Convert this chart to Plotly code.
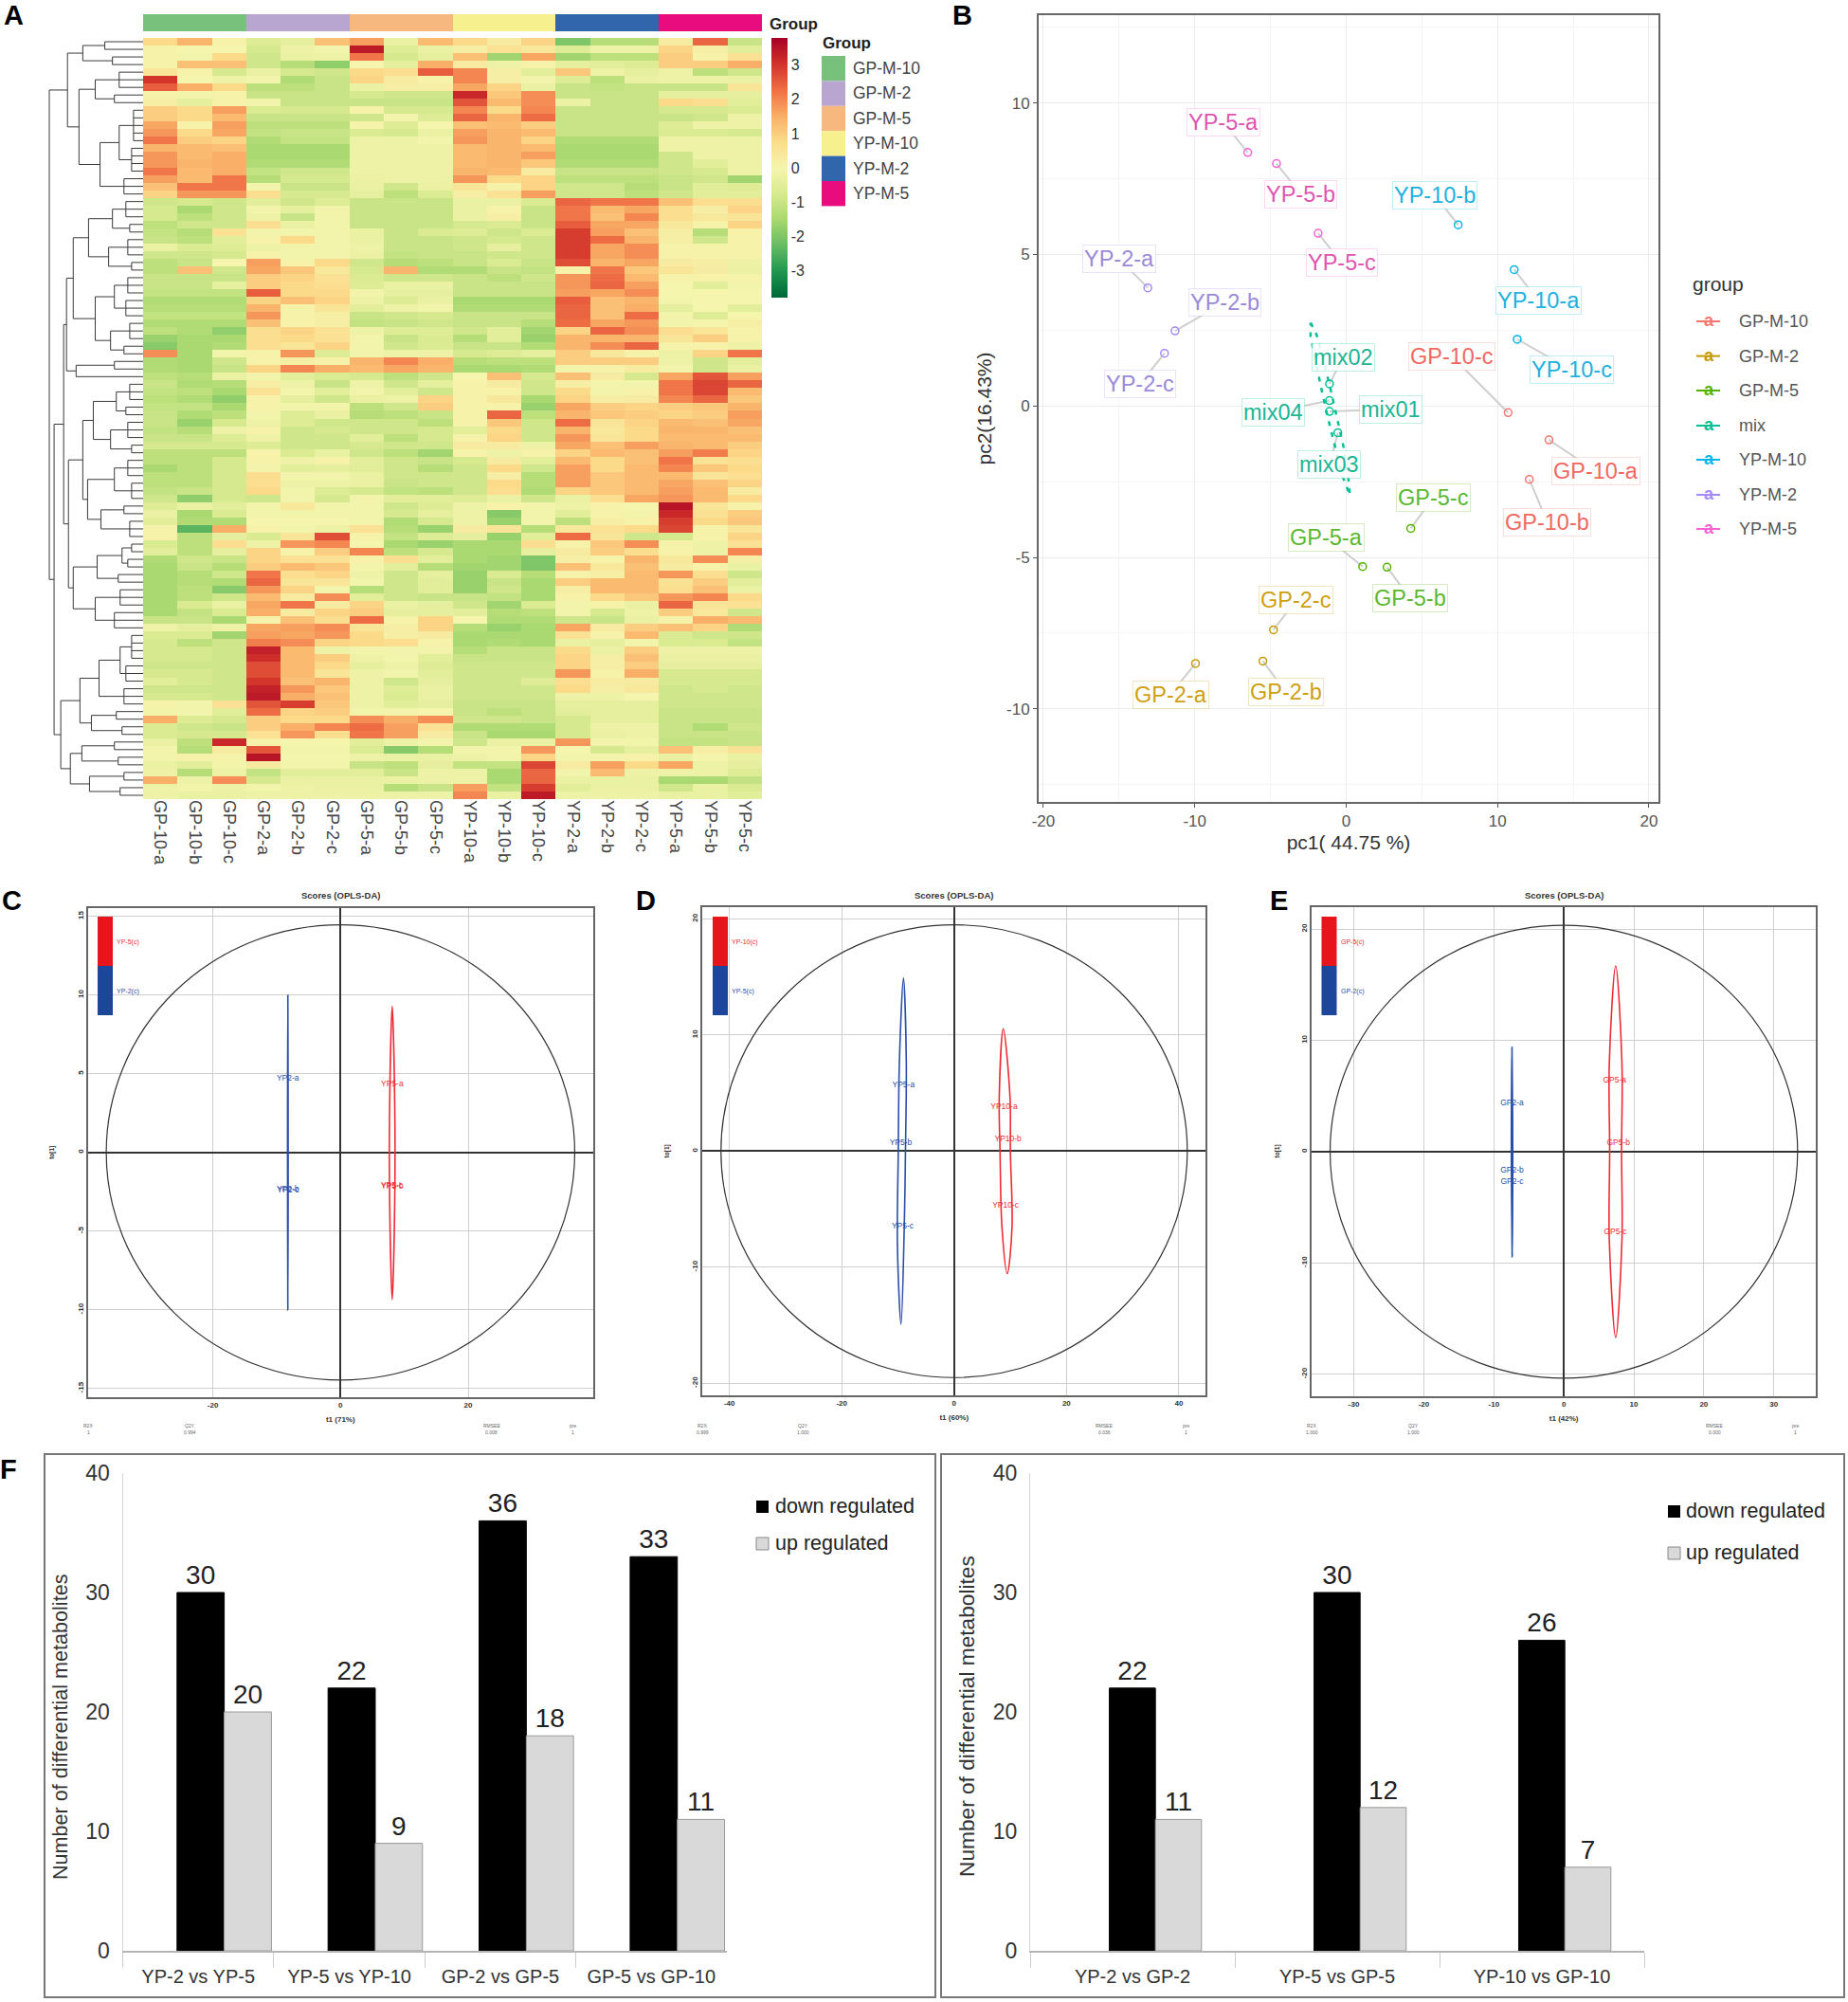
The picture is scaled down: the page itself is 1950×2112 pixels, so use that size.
import plotly.graph_objects as go

W, H = 1950, 2112

# ---------- Panel A data ----------
samples = ["GP-10-a","GP-10-b","GP-10-c","GP-2-a","GP-2-b","GP-2-c","GP-5-a","GP-5-b","GP-5-c",
           "YP-10-a","YP-10-b","YP-10-c","YP-2-a","YP-2-b","YP-2-c","YP-5-a","YP-5-b","YP-5-c"]
group_index = [0,0,0,1,1,1,2,2,2,3,3,3,4,4,4,5,5,5]
group_names = ["GP-M-10","GP-M-2","GP-M-5","YP-M-10","YP-M-2","YP-M-5"]
group_colors = ["#78C17C","#B9A6D0","#F6B87F","#F6F08E","#3266AC","#E90C7E"]
heat_values = [
[.8,1.4,.1,-.6,-.4,1.2,1.7,-.3,1.3,.8,.3,.9,-2,-1.3,-1.3,.3,2.4,-1],
[.1,0,0,-.8,-.2,-.1,3.4,-.6,-.3,.2,.6,.4,-.6,-.2,-.2,.9,.2,-.5],
[.1,-.1,.8,-.9,-.3,-.2,2.2,-.8,-.4,1.2,-1.6,1.6,-1.6,-1.2,-1.2,1,.1,.6],
[.1,1.2,1.2,-.9,-1.3,-1.8,0,-.4,1.5,.3,-.2,.1,-.4,-.5,-.6,1,1,1.5],
[.5,.1,-.8,-.3,-.8,-.9,.8,.7,2.5,2,.2,-.5,1.1,-.2,-.4,-.2,-1.2,-.9],
[3,0,-.2,-.1,-1.4,-1,.9,.3,.1,2,.2,-.1,-.6,-1.2,-.3,-.2,-.2,-.3],
[2.5,1.5,.8,-1.2,-1.2,-1,-.3,.2,.2,1.6,.9,-.3,-1,-1.1,-1,-1,-1,.5],
[.1,-.1,.1,-1,-1,-1,-.8,-.9,-.9,3.2,1.1,1.9,-1,-1,-1,-.4,-.4,-.4],
[.2,-.4,.1,-.1,-1,-1,-1,-1,-1,2.6,1.3,1.9,-.3,-1,-1,.8,.7,-.5],
[1,.8,1.7,-.7,-.8,-.8,.1,-.8,-.8,2,.8,2,-1,-1,-1,-.8,-.8,-.7],
[1,.8,1.3,-1,-1,-1,-.9,-.1,-.6,2.4,1.4,2.3,-1,-1,-1,-1,-.9,-.2],
[1.6,.1,1.7,-1.2,-1.2,-1.2,.1,-.6,0,1.2,1.3,1,-1,-1,-1,-.6,-.2,-.2],
[1.8,.8,1.6,-1.1,-1,-1,-.7,-.8,-.3,1.7,1.4,1.3,-1,-1,-1,-.7,-.7,-.8],
[2.2,1,.9,-1.4,-1.1,-1.1,-.2,-.2,-.1,1.8,1.4,.9,-1.4,-1.4,-1.4,-.2,-.2,-.2],
[1.4,1.3,1.2,-1.5,-1.5,-1.5,-.2,-.2,-.2,1.3,1.4,1.3,-1.5,-1.5,-1.5,-.2,-.2,-.2],
[1.8,1.3,1.5,-1.5,-1.5,-1.5,-.2,-.2,-.2,1.3,1.4,1.7,-1.5,-1.5,-1.5,-.9,-.2,-.2],
[1.8,1.4,1.5,-1.4,-1.4,-1.4,-.2,-.2,-.2,1.3,1.4,1.1,-1.4,-1.4,-1.4,-.9,-.5,-.2],
[2.2,1.3,1.5,-1.1,-.9,-.9,-.2,-.2,-.2,1.4,1.3,.3,-1,-1,-1,-.9,-.8,-.2],
[1.7,1.3,2.2,-1.3,-.8,-.8,-.3,-.2,-.2,1.8,.8,.9,-1.2,-1.2,-1.2,-1,-.9,-1.6],
[1.2,2.2,2.2,-.1,-1,-1,-.3,-.9,-.3,.5,.1,.9,-.9,-.9,-1.3,-1,-.5,-.6],
[.9,1.8,1.8,.7,-.8,-.8,-.4,-1.2,-.7,.2,.6,1.7,-.9,-.9,-1.2,-.9,-.5,-.5],
[-.9,-.8,-.9,-.5,-.9,-.6,-1,-1,-1,-.3,-.3,-.7,2.4,2.2,2.2,1.2,.7,.7],
[-.8,-1.5,-.9,-.1,-.4,-.1,-1,-1,-1,-.3,.1,-1,2.2,1.3,1.6,.7,.2,.9],
[-.8,-1.2,-.9,-.2,-1,-.1,-1,-1,-1,-.3,.2,-1,2.2,1.2,2,.7,.4,.5],
[-1.2,-.9,-.9,.7,-.3,-.1,-1,-1,-1,-.8,-.7,-1,2.5,1.6,1.6,.4,.1,.9],
[-1.1,-1.3,.6,-.1,-.1,-.1,-.3,-1,-.7,-.6,-.9,-.7,2.9,1.7,1.2,.2,-1.3,.1],
[-1,-1.2,-.5,.1,.8,-.1,-.3,-1,-1,-.9,-.8,-.9,2.9,2.3,1.4,.2,-.9,.1],
[-.3,-.7,-.6,-.2,-.1,-.1,-.2,-1,-1,-.9,-.4,-.9,2.9,1.6,1.9,.1,.1,.1],
[-.9,-.9,-.8,.1,-.1,-.1,-.3,-1.1,-1,-1,-.9,-.9,2.9,1.6,1.9,.1,.1,.1],
[-1.2,-1,0,1.7,.1,.8,-.9,-1.3,-1.2,-1,-.7,-1,2.7,1.4,1.6,.3,.2,-.2],
[-1.2,1.2,-.9,1.6,1.1,.4,-.8,1.4,-1.4,-1.4,-1,-1.1,.1,2.2,1.1,.5,.3,-.3],
[-1,-1,-1,1,.9,.6,-.7,-.9,-.9,-1,-1.2,-.9,1.8,2.3,1.3,.1,.1,.1],
[-1,-1,-.4,1,.8,.7,-.6,-.3,-.3,-1,-1,-1,1.8,2.4,1.7,0,-.5,-.1],
[-1.1,-1.1,-1.1,2.5,.8,.8,-.1,-.4,-.4,-1,-1,-1,1.7,1.6,1.9,0,0,0],
[-1.4,-1.4,-1.4,.9,1.2,.9,-.2,-.6,-.3,-1.5,-1.5,-1.5,2.5,1.2,1.4,-.1,0,0],
[-1.3,-1.3,-1.3,1.4,.1,.5,-.5,-.2,-.1,-1.4,-1.4,-1.4,2.4,1.2,1.5,-.4,0,-.5],
[-1.1,-1.1,-1.1,1.8,.1,.2,-1,-.9,-.8,-1,-1,-1,2.4,1.2,2.3,-.1,-.6,0],
[-1.4,-1.4,-1.4,1.2,.1,.2,-1.1,-1,-.9,-1,-1,-1.3,2.3,1.6,1.8,-.1,0,.2],
[-1.2,-1.4,-1.8,.7,.9,.6,-.2,-.6,-.6,-.9,-.5,-1.6,.9,2.4,1.9,.7,.5,.1],
[-1.7,-1.5,-1.5,.7,.8,.6,-.1,-1,-.7,-1.3,-.5,-1.7,1.4,1.4,1.4,.5,1,.1],
[-1.9,-1.5,-1.4,.7,.5,.9,-.1,-.9,-.7,-1,-1,-1.4,1.4,1.9,2.4,.1,.1,-.2],
[1.9,-1.5,-.1,.1,1.8,-.6,-.1,-.2,-.2,-.8,-.6,-.4,1,.4,.1,-.2,.9,2.2],
[-1.4,-1.5,-.9,.1,.2,.1,1.4,2,1.5,-1.3,-1.2,-1.2,1,1,1,-.2,-.9,-.5],
[-1.4,-1.5,-1,.9,2,1.5,1.3,1.6,1.4,-1.5,-1.5,-1.4,-.1,.1,.3,-.1,-.9,-.3],
[-1.2,-1.3,-.3,-.1,-.5,-.7,-.8,-1.2,-.9,0,1.2,-.8,1.2,.3,-.8,1.6,2.6,1.7],
[-1,-1.4,-1.3,.2,-.2,-1,-.2,-.9,-.4,.1,.3,-.9,.2,-.1,-.1,2.2,2.8,2.4],
[-1.1,-1.2,-1.5,.6,-.1,-.5,-.1,-.5,-.9,.1,.1,-.9,.8,-.1,.1,2.2,2.8,1.3],
[-1.2,-1.4,-1.8,.1,-.4,-.9,-.3,-.2,.9,.1,.4,-1.5,.9,.2,.3,2,2.4,1.1],
[-1.1,-1.1,-1.5,.1,-.1,-.1,-1.2,-.9,1,.1,.1,-1.7,1.6,1,.9,1,1.1,1.4],
[-1,-1.4,-1.2,-.1,-.6,-.3,-1.3,-1.2,-1,.1,2.4,-1.2,1.4,1.1,1,.9,1,1.7],
[-1,-1.7,-.8,-.2,-.6,-.9,-.9,-.9,-1.2,.1,1.1,-.9,2.3,.5,.9,1.3,1.2,1.6],
[-1.1,-1.3,-.2,.1,-.9,-.8,-.9,-.9,-.8,-.5,.8,-.9,1.4,.4,.8,1.4,1.4,1.2],
[-1,-1,-.6,-.2,-.9,-.9,-.5,-1.2,-.8,.1,.9,-.9,1.8,.5,.8,1.3,1.3,1.3],
[-.8,-.8,-.8,-.6,-.9,-.9,-.8,-.9,-.9,.3,.3,-.2,1.6,1.2,1.7,1.4,1.3,1],
[-1.2,-1.2,-1.2,.1,-.7,-.3,-.9,-1.2,-1.6,.1,-.2,.1,.9,1.3,1.2,1.7,2.1,.9],
[-1.2,-1.2,-.8,.1,-.2,.1,-.5,-.9,-1,-.8,.3,-.5,1.3,.8,1.2,2.2,.6,.7],
[-1.5,-1.2,-.8,-.1,-.5,-.4,-.5,-.9,-1.3,-.9,.8,-.9,1.7,.8,1.3,2,1.1,.8],
[-1.2,-1.2,-.8,.7,-.1,-.1,-.3,-.9,-.9,-.9,.2,-1.3,1.7,1.1,1.3,1.3,.5,.7],
[-1.2,-1.2,-.8,.7,-.2,-.2,-.3,-1,-.9,-.9,.8,-1.3,1.7,1.1,1.3,1.6,1.2,.9],
[-1.1,-1,-.8,.8,-.1,-.6,-.8,-1.1,-1.2,-.9,.7,-1.4,.9,1.1,1.3,1.7,1.3,.3],
[-.9,-1.8,-.8,-.9,-.1,-.8,-.1,-.5,-.5,-.6,-.3,-.9,-.3,.7,1.6,1.8,1.3,.8],
[-.6,-.3,-.5,-.1,.4,-.1,-.1,-.9,-.6,-.2,.1,-.1,-.2,.1,0,3.5,.5,.1],
[-.3,-1.5,-.7,-.1,-.1,-.1,-.1,-.8,-.4,-.2,-1.9,-.1,-.5,.1,-.1,3.2,.6,1],
[-.5,-1.4,-1.4,0,0,0,-.1,-1.4,-.8,-.2,-1.7,-.1,-1.2,.2,.1,2.9,.8,1.1],
[.1,-2.4,1.5,.1,-.1,-.2,.6,-1.3,-1.7,.3,.5,-1.3,.4,.6,.8,2.8,.1,.5],
[.1,-1.2,-.4,-.7,.5,2.7,.1,-1.1,-.6,-.4,-1.7,-.5,2.3,.5,-.9,-.8,.1,.9],
[-.7,-1.2,.7,-.2,1.8,2,0,-1.5,-1.7,-1.5,-1.5,.7,.1,1.1,1.9,.1,-.2,.6],
[-.5,-1.2,-.4,.9,.1,1,2,-1.2,-.8,-1.5,-1.5,-.4,.3,1,.7,.1,-.2,2],
[-1.4,-.9,-1,.9,.6,.6,.1,.7,-.5,-1.5,-1.6,-2,.2,.1,1.4,.4,1.9,.2],
[-1.5,-1,-1.3,1,1.3,1.1,-.1,-.5,-1.3,-1.6,-1.6,-2,1.2,.4,1.2,.3,.1,-.3],
[-1.5,-1.3,-.9,2.2,.7,.9,-.2,-.9,-.4,-1.7,-.7,-1.3,.1,.2,1.3,1.8,.7,-.9],
[-1.5,-1.3,-1.4,2.4,.5,.5,-.1,-.9,-.5,-1.7,-1,-1.5,1,1.3,1.3,.6,1,-.5],
[-1.5,-1.2,-1.9,1.8,.9,-.1,-1.3,-.9,-.5,-1.7,-.9,-1.5,.2,1.3,1.3,.7,1.2,-.3],
[-1.5,-1.2,-.9,1.3,.3,1.9,-.5,-.9,-1,-1,-1.1,-1.5,.1,.8,1.1,1.8,2,.8],
[-1.5,-.7,-.3,1.6,2.2,.3,.9,-.3,-.4,-.9,-1.6,-.7,-.1,.1,-.3,2.4,.5,.6],
[-1.5,-1.1,-.7,1.5,.3,.9,1,-.4,-.4,-.5,-1.3,-1.2,-.1,-.8,-.2,1,.4,-.9],
[-1,-1,-1.5,.1,1.2,.7,2.3,.1,.9,0,-1.4,-1.4,-.9,-1,-.3,.1,1.5,1.3],
[-.2,-.4,-.2,1.6,1.7,1.9,.5,.2,.9,-1.3,-1.7,-1.5,1.6,.3,1,1.2,.9,-1.4],
[-.7,-.7,-1.6,1.7,1.6,1.8,.8,.2,.3,-1.5,-1.5,-1.5,.6,.1,1.3,-.7,-.9,-.9],
[-.8,-1.2,-.9,2.1,1.9,.9,.8,.7,.1,-1.5,-1.4,-1.5,-.3,-.4,-.1,-.7,-.7,-1.1],
[-.8,-.8,-.9,3.3,1.3,-.2,-.1,-.1,-.1,-1.3,-1,-1,.8,-.3,1,-.2,-.2,-.2],
[-.8,-.8,-.9,3.1,1.3,1,-.2,-.1,-.5,-1,-1,-1,.9,.2,1.2,-.3,-.3,-.3],
[-.9,-.9,-.9,2.7,1.3,.8,-.4,-.2,-.6,-.9,-.9,-.9,.9,.2,1,-.4,-.4,-.4],
[-.8,-.8,-.9,2.7,1.3,.5,-.2,-.1,-.5,-.9,-.9,-.9,1.8,.1,1.5,-.8,-.8,-.8],
[-.5,-.8,-.9,3,1.2,1.4,-.2,-.9,-.4,-.9,-.9,-.6,.7,.3,.3,-.8,-.8,-.8],
[-.9,-.9,-.9,3.3,1.8,1.1,-.2,-.6,-.3,-.9,-.9,-.9,.8,.2,.4,-.9,-.8,-.9],
[-.8,-.8,-.9,3.4,1.5,1.2,-.2,-.7,-.3,-.9,-.9,-.9,-.2,-.2,0,-.9,-.9,-.9],
[.1,-.1,.6,2.6,2.9,1.1,-.2,-.5,-.4,-1,-1,-1,-.4,-.4,-.4,-.9,-.9,-.9],
[-.1,-.1,-.5,2.3,.9,1,-.1,-.1,0,-1,-1.2,-1,-.5,-.4,-.4,-1,-1,-1],
[1.5,-.6,-.8,1,.8,.8,1.9,1.5,1.9,-.9,-.9,-1,-.8,-.4,-.4,-1,-1,-1],
[-.7,-.9,-1,1,1.5,2,2.3,1.7,.6,-1.4,-1.4,-1.4,-.8,-.2,-.2,-1,-1.4,-.9],
[-.7,-.8,-.8,.6,1.8,.7,2.2,1.7,.3,-1,-1.5,-1.5,-.8,-.3,-.2,-1,-1,-1],
[-.3,-1.2,3.2,.1,0,0,-.5,-.2,-.1,-.9,-.3,-.3,1.8,-.1,-.1,-1.1,-1.1,-1],
[-.1,-1.3,.3,2.6,-.1,-.1,-.7,-1.9,-1.3,-.1,-.1,1.8,0,-.8,-.4,1.2,.2,.6],
[-.1,.1,.1,3.5,0,0,-.2,-.3,-.3,-.2,-.1,.9,-.1,-.1,.1,-.3,0,-.3],
[-.3,-.5,-.1,.3,-.1,-.1,-1,-1.2,-.4,-1.1,-1.1,2.8,.3,1.7,.8,1.6,-.2,-.4],
[-.2,-1.3,-.2,-1.1,-.5,-.5,-.5,-1,-.2,-.2,-1.5,2.4,-.1,1.3,-.2,-.2,-.2,-.6],
[1.5,-.2,1.9,-.8,-.3,-.3,-.3,-.3,-.2,-.2,-1.5,2.4,-.3,-.3,-.3,-1.5,-1.5,-1.1],
[-.2,-.1,-.2,-.1,-.2,-.3,-.3,-1.3,-1,1.7,-1.1,2.9,-.5,-.3,-.3,-.9,-.3,-.7],
[-.2,-.3,-.3,-.2,-.2,-.2,-.2,-.2,-.2,2,-.3,3.4,-.2,-.2,-.2,-.3,-.3,-.5],
]
colorbar_ticks = [-3,-2,-1,0,1,2,3]
# dendrogram: [height, upper, lower]; (height, n) is a fan of n leaves
tree_a = [79,[63,(40,2),(32,2)],[67,[50,(25,3),(30,2)],[45,[25,(10,5),(12,4)],(20,3)]]]
tree_b = [73,[57,[32,(18,3),(14,2)],[36,(16,3),(12,2)]],[50,[30,(16,3),(18,3)],[34,(14,3),(20,2)]]]
tree_c = [70,(30,2),(0,1)]
tree_d = [63,[52,[28,(14,3),(18,2)],[34,(16,3),(12,2)]],[58,[30,(16,3),(12,3)],[44,(20,2),(14,3)]]]
tree_e = [73,[48,[22,(12,2),(16,2)],(26,2)],[50,(24,3),(30,3)]]
tree_f = [66,[46,[24,(12,4),(18,3)],(20,3)],[54,(28,2),(22,2)]]
tree_g = [76,[64,(30,2),(26,2)],[56,(20,2),(24,2)]]
tree_root = [98,tree_a,[93,[83,[80,tree_b,tree_c],[78,tree_d,tree_e]],[86,tree_f,tree_g]]]

# ---------- Panel B data ----------
pca_groups = ["GP-M-10","GP-M-2","GP-M-5","mix","YP-M-10","YP-M-2","YP-M-5"]
pca_colors = ["#F8766D","#C49A00","#53B400","#00C094","#00B6EB","#A58AFF","#FB61D7"]
pca_border_colors = ["rgba(248,118,109,.25)","rgba(196,154,0,.25)","rgba(83,180,0,.25)","rgba(0,192,148,.25)",
                     "rgba(0,182,235,.25)","rgba(165,138,255,.25)","rgba(251,97,215,.25)"]
pca_text_colors = ["#F2675F","#CF9F10","#5CB82E","#1DB592","#22B0E0","#9A8AD8","#DE55B0"]
pca_names = ["GP-10-a","GP-10-b","GP-10-c","GP-2-a","GP-2-b","GP-2-c","GP-5-a","GP-5-b","GP-5-c",
             "mix01","mix02","mix03","mix04","YP-10-a","YP-10-b","YP-10-c","YP-2-a","YP-2-b","YP-2-c",
             "YP-5-a","YP-5-b","YP-5-c"]
pca_group_idx = [0,0,0,1,1,1,2,2,2,3,3,3,3,4,4,4,5,5,5,6,6,6]
pca_x = [13.4,12.1,10.7,-9.95,-5.5,-4.8,1.09,2.7,4.27,-1.1,-1.1,-.55,-1.1,11.1,7.4,11.3,-13.1,-11.3,-12,-6.5,-4.6,-1.85]
pca_y = [-1.12,-2.42,-.22,-8.5,-8.42,-7.39,-5.3,-5.32,-4.04,-.18,.73,-.88,.18,4.5,5.98,2.2,3.9,2.48,1.74,8.37,8,5.7]
label_x = [16.5,13.3,7,-11.6,-4,-3.3,-1.3,4.2,5.75,2.95,-.2,-1.1,-4.8,12.7,5.87,14.9,-15,-8,-13.6,-8.1,-3,-.3]
label_y = [-2.15,-3.85,1.63,-9.52,-9.43,-6.42,-4.33,-6.33,-3.03,-.11,1.61,-1.94,-.2,3.47,6.95,1.19,4.86,3.43,.73,9.35,7,4.73]
mix_ellipse_x = [-2.35,-1.95,-1.55,-1.05,-.6,-.15,.15,.25,-.25,-.7,-1.2,-1.65,-2.05,-2.35,-2.35]
mix_ellipse_y = [2.75,2.35,1.6,.6,-.4,-1.4,-2.4,-2.95,-2.3,-1.4,-.4,.6,1.6,2.3,2.75]

# ---------- Panels C, D, E data ----------
score_panels = [
 dict(letter="C", xdom=(92.6,626), ydom=(957.6,1474), xr=39.6, yr=15.55, rx=36.7, ry=14.46,
      xticks=[-20,0,20], yticks=[-15,-10,-5,0,5,10,15], xt="t1 (71%)", ytx=55,
      red_x=[8.1,8.5,8.5,8.1,7.7,7.7,8.1], red_y=[9.3,3,-3,-9.35,-3,3,9.3],
      blue_x=[-8.25,-8.2,-8.25,-8.3,-8.25], blue_y=[10,0,-10,0,10],
      red_px=[8.1,8.1,8.05], red_py=[4.33,-2.2,-2.1], red_n=["YP5-a","YP5-b","YP5-c"],
      blue_px=[-8.25,-8.25,-8.2], blue_py=[4.7,-2.35,-2.4], blue_n=["YP2-a","YP2-b","YP2-c"],
      leg=["YP-5(c)","YP-2(c)"], leg_x=(103,119), leg_top=967,
      metrics=[("R2X","1",93),("Q2Y","0.994",200),("RMSEE","0.008",518.5),("pre","1",604)]),
 dict(letter="D", xdom=(741.2,1272.4), ydom=(957.2,1471.6), xr=44.8, yr=21, rx=41.5, ry=19.5,
      xticks=[-40,-20,0,20,40], yticks=[-20,-10,0,10,20], xt="t1 (60%)", ytx=704,
      red_x=[8.74,9.94,10.01,10.3,9.45,8.52,8.17,8.03,8.74], red_y=[10.55,4.68,0,-6.6,-10.55,-6.6,0,4.68,10.55],
      blue_x=[-9.02,-8.52,-8.66,-8.88,-9.45,-10.09,-9.94,-9.73,-9.02], blue_y=[14.9,7.9,0,-6.6,-14.9,-8.2,0,7.9,14.9],
      red_px=[8.88,9.59,9.16], red_py=[3.77,1,-4.68], red_n=["YP10-a","YP10-b","YP10-c"],
      blue_px=[-9.02,-9.5,-9.16], blue_py=[5.71,.68,-6.45], blue_n=["YP5-a","YP5-b","YP5-c"],
      leg=["YP-10(c)","YP-5(c)"], leg_x=(752,768), leg_top=967,
      metrics=[("R2X","0.999",741),("Q2Y","1.000",847),("RMSEE","0.036",1165),("pre","1",1251)]),
 dict(letter="E", xdom=(1384.3,1916), ydom=(957.2,1472.8), xr=36, yr=21.96, rx=33.4, ry=20.35,
      xticks=[-30,-20,-10,0,10,20,30], yticks=[-20,-10,0,10,20], xt="t1 (42%)", ytx=1347.5,
      red_x=[7.41,8.3,8.25,8.3,7.41,6.5,6.55,6.5,7.41], red_y=[16.7,8,0,-8,-16.7,-8,0,8,16.7],
      blue_x=[-7.41,-7.3,-7.38,-7.5,-7.41], blue_y=[9.4,0,-9.46,0,9.4],
      red_px=[7.25,7.8,7.36], red_py=[6.4,.77,-7.2], red_n=["GP5-a","GP5-b","GP5-c"],
      blue_px=[-7.41,-7.41,-7.41], blue_py=[4.34,-1.72,-2.73], blue_n=["GP2-a","GP2-b","GP2-c"],
      leg=["GP-5(c)","GP-2(c)"], leg_x=(1394.5,1410.5), leg_top=967,
      metrics=[("R2X","1.000",1384),("Q2Y","1.000",1491),("RMSEE","0.000",1809),("pre","1",1894)]),
]

# ---------- Panel F data ----------
f_left_cats = ["YP-2 vs YP-5","YP-5 vs YP-10","GP-2 vs GP-5","GP-5 vs GP-10"]
f_left_down = [30,22,36,33]
f_left_up = [20,9,18,11]
f_right_cats = ["YP-2 vs GP-2","YP-5 vs GP-5","YP-10 vs GP-10"]
f_right_down = [22,30,26]
f_right_up = [11,12,7]

FONT = "Liberation Sans"

def px(x): return x / W
def py(y): return 1 - y / H
def xd(a, b): return [px(a), px(b)]
def yd(t, b): return [py(b), py(t)]
def signed(vals): return [str(v) for v in vals]

fig = go.Figure()
shapes, annots = [], []

def text(x, y, s, size, color="#222", bold=False, xanchor="center", yanchor="middle", angle=0):
    annots.append(dict(x=px(x), y=py(y), xref="paper", yref="paper", text=s, showarrow=False,
                       xanchor=xanchor, yanchor=yanchor, textangle=angle,
                       font=dict(size=size, color=color, family=FONT, weight="bold" if bold else "normal")))

def rect(x0, y0, x1, y1, fill=None, line=None, lw=1):
    shapes.append(dict(type="rect", xref="paper", yref="paper", x0=px(x0), x1=px(x1),
                       y0=py(y0), y1=py(y1), fillcolor=fill or "rgba(0,0,0,0)",
                       line=dict(color=line or "rgba(0,0,0,0)", width=lw)))

layout_axes = {}

# ---------- A: heatmap ----------
rdylgn = ["#006837","#1f964f","#66bb63","#a9d870","#d8ea90","#F5F5AE","#fbdc8c","#f9ae66","#ef6e45","#d2322a","#a50026"]
scale = [[i / 10, c] for i, c in enumerate(rdylgn)]
rows = list(range(len(heat_values)))
fig.add_trace(go.Heatmap(z=heat_values, x=samples, y=rows, zmin=-3.8, zmax=3.8, colorscale=scale,
    xaxis="x", yaxis="y", hoverinfo="skip",
    colorbar=dict(x=px(814), xanchor="left", y=py(40), yanchor="top", len=274, lenmode="pixels",
                  thickness=17, thicknessmode="pixels", outlinewidth=0, xpad=0, ypad=0, tickvals=colorbar_ticks,
                  ticktext=signed(colorbar_ticks), ticks="", tickfont=dict(size=16, color="#333", family=FONT))))
layout_axes["xaxis"] = dict(domain=xd(151, 804), tickangle=90, showgrid=False, ticks="", showline=False, zeroline=False,
                            tickfont=dict(size=18, color="#444", family=FONT), anchor="y")
layout_axes["yaxis"] = dict(domain=yd(40, 843), range=[len(rows) - .5, -.5], showticklabels=False, showgrid=False,
                            zeroline=False, ticks="", anchor="x")

# annotation bar
bar_scale = []
for i, c in enumerate(group_colors):
    bar_scale += [[i / 6, c], [(i + 1) / 6, c]]
fig.add_trace(go.Heatmap(z=[[g + .5 for g in group_index]], x=samples, y=["Group"], zmin=0, zmax=6, colorscale=bar_scale,
                         showscale=False, xaxis="x2", yaxis="y2", hoverinfo="skip"))
layout_axes["xaxis2"] = dict(domain=xd(151, 804), showticklabels=False, showgrid=False, ticks="", zeroline=False, anchor="y2")
layout_axes["yaxis2"] = dict(domain=yd(15, 33), showticklabels=False, showgrid=False, ticks="", zeroline=False, anchor="x2")
text(810, 25, "Group", 17, "#222", True, "left")

# dendrogram
tx, ty = [], []
cursor = [0]
def seg(x0, y0, x1, y1):
    tx.extend([x0, x1, None]); ty.extend([y0, y1, None])
def walk(node):
    if isinstance(node, tuple):
        h, n = node
        ys = [cursor[0] + k for k in range(n)]
        cursor[0] += n
        for y in ys:
            seg(0, y, h, y)
        if n > 1:
            seg(h, ys[0], h, ys[-1])
        return h, sum(ys) / n
    h, a, b = node
    ha, ya = walk(a)
    hb, yb = walk(b)
    seg(h, ya, h, yb); seg(ha, ya, h, ya); seg(hb, yb, h, yb)
    return h, (ya + yb) / 2
walk(tree_root)
fig.add_trace(go.Scatter(x=tx, y=ty, mode="lines", line=dict(color="#3a3a3a", width=1), xaxis="x3", yaxis="y3",
                         hoverinfo="skip", showlegend=False))
layout_axes["xaxis3"] = dict(domain=xd(50, 151), range=[100, 0], visible=False, anchor="y3")
layout_axes["yaxis3"] = dict(domain=yd(40, 843), range=[len(rows) - .5, -.5], visible=False, anchor="x3")

# A legend
text(866, 46, "Group", 17, "#222", True, "left")
for i, (n, c) in enumerate(zip(group_names, group_colors)):
    rect(867, 59 + 26.4 * i, 892, 59 + 26.4 * (i + 1), fill=c)
    text(898, 72 + 26.4 * i, n, 17.5, "#444", False, "left")

# ---------- B: PCA ----------
cx, cy = [], []
for a, b, c, d in zip(pca_x, pca_y, label_x, label_y):
    cx += [a, c, None]; cy += [b, d, None]
fig.add_trace(go.Scatter(x=cx, y=cy, mode="lines", line=dict(color="#cfcfcf", width=2), xaxis="x4", yaxis="y4",
                         hoverinfo="skip", showlegend=False))
fig.add_trace(go.Scatter(x=mix_ellipse_x, y=mix_ellipse_y, mode="lines", line=dict(color=pca_colors[3], width=2.5, dash="5px,7px"),
                         xaxis="x4", yaxis="y4", hoverinfo="skip", showlegend=False))
fig.add_trace(go.Scatter(x=pca_x, y=pca_y, mode="markers", xaxis="x4", yaxis="y4", showlegend=False,
                         marker=dict(symbol="circle-open", size=8, line=dict(width=1.5), color=[pca_colors[g] for g in pca_group_idx]),
                         hoverinfo="skip"))
for n, g, x, y in zip(pca_names, pca_group_idx, label_x, label_y):
    annots.append(dict(x=x, y=y, xref="x4", yref="y4", text=n, showarrow=False,
                       font=dict(size=23.5, color=pca_text_colors[g], family=FONT),
                       bgcolor="rgba(255,255,255,0.85)", bordercolor=pca_border_colors[g], borderwidth=1, borderpad=1))
major = "#ececec"; minor = "#f5f5f5"
pca_xticks = [-20,-10,0,10,20]
pca_yticks = [-10,-5,0,5,10]
layout_axes["xaxis4"] = dict(domain=xd(1096, 1750), range=[-20.31, 20.63], tickvals=pca_xticks, ticktext=signed(pca_xticks), anchor="y4",
    showgrid=True, gridcolor=major, zeroline=False, minor=dict(tickvals=[-15,-5,5,15], showgrid=True, gridcolor=minor, ticks=""),
    ticks="outside", ticklen=4, tickcolor="#555", showline=True, mirror=True, linecolor="#666", linewidth=2,
    tickfont=dict(size=17, color="#555", family=FONT),
    title=dict(text="pc1( 44.75 %)", font=dict(size=21, color="#333", family=FONT), standoff=6))
layout_axes["yaxis4"] = dict(domain=yd(16, 846), range=[-13.07, 12.9], tickvals=pca_yticks, ticktext=signed(pca_yticks), anchor="x4",
    showgrid=True, gridcolor=major, zeroline=False, minor=dict(tickvals=[-12.5,-7.5,-2.5,2.5,7.5,12.5], showgrid=True, gridcolor=minor, ticks=""),
    ticks="outside", ticklen=4, tickcolor="#555", showline=True, mirror=True, linecolor="#666", linewidth=2,
    tickfont=dict(size=17, color="#555", family=FONT),
    title=dict(text="pc2(16.43%)", font=dict(size=21, color="#333", family=FONT), standoff=10))

# B legend
text(1784, 299, "group", 21, "#333", False, "left")
for n, c, y in zip(pca_groups, pca_colors, [339, 375.6, 412, 449, 485, 522, 558]):
    shapes.append(dict(type="line", xref="paper", yref="paper", x0=px(1790), x1=px(1815), y0=py(y), y1=py(y),
                       line=dict(color=c, width=2)))
    text(1803, y - 1, "a", 18, c, True)
    text(1833, y, n, 18, "#555", False, "left")

# ---------- C, D, E: OPLS-DA ----------
axis_id = 5
for p in score_panels:
    xa, ya = f"x{axis_id}", f"y{axis_id}"
    red, blue = "#EE2B35", "#2A4EA8"
    fig.add_trace(go.Scatter(x=p["blue_x"], y=p["blue_y"], mode="lines", line=dict(color=blue, width=1.6, shape="spline"),
                             xaxis=xa, yaxis=ya, showlegend=False, hoverinfo="skip"))
    fig.add_trace(go.Scatter(x=p["red_x"], y=p["red_y"], mode="lines", line=dict(color=red, width=1.6, shape="spline"),
                             xaxis=xa, yaxis=ya, showlegend=False, hoverinfo="skip"))
    fig.add_trace(go.Scatter(x=p["blue_px"], y=p["blue_py"], text=p["blue_n"], mode="text",
                             textfont=dict(size=8.5, color=blue, family=FONT), xaxis=xa, yaxis=ya, showlegend=False, hoverinfo="skip"))
    fig.add_trace(go.Scatter(x=p["red_px"], y=p["red_py"], text=p["red_n"], mode="text",
                             textfont=dict(size=8.5, color=red, family=FONT), xaxis=xa, yaxis=ya, showlegend=False, hoverinfo="skip"))
    shapes.append(dict(type="circle", xref=xa, yref=ya, x0=-p["rx"], x1=p["rx"], y0=-p["ry"], y1=p["ry"],
                       line=dict(color="#333", width=1.2)))
    axis_common = dict(showgrid=True, gridcolor="#cfcfcf", gridwidth=1, zeroline=True, zerolinecolor="#333", zerolinewidth=1.6,
                       ticks="", showline=True, mirror=True, linecolor="#666", linewidth=1.6,
                       tickfont=dict(size=8, color="#333", family=FONT, weight="bold"))
    layout_axes[f"xaxis{axis_id}"] = dict(domain=xd(*p["xdom"]), range=[-p["xr"], p["xr"]], tickvals=p["xticks"],
        ticktext=signed(p["xticks"]), anchor=ya,
        title=dict(text=p["xt"], font=dict(size=8, color="#333", family=FONT, weight="bold"), standoff=8), **axis_common)
    layout_axes[f"yaxis{axis_id}"] = dict(domain=yd(*p["ydom"]), range=[-p["yr"], p["yr"]], tickvals=p["yticks"],
        ticktext=signed(p["yticks"]), anchor=xa, tickangle=-90, **axis_common)
    mid = (p["xdom"][0] + p["xdom"][1]) / 2
    text(mid, 944, "Scores (OPLS-DA)", 9.5, "#333", True)
    text(p["ytx"], (p["ydom"][0] + p["ydom"][1]) / 2, "to[1]", 6.5, "#333", True, angle=-90)
    l0, l1 = p["leg_x"]
    rect(l0, 967, l1, 1019, fill="#E8141C")
    rect(l0, 1019, l1, 1071, fill="#1C469C")
    text(l1 + 2, 993.5, p["leg"][0], 7, red, False, "left")
    text(l1 + 2, 1045.5, p["leg"][1], 7, blue, False, "left")
    for name, val, x in p["metrics"]:
        text(x, 1504, name, 5, "#666")
        text(x, 1511, val, 5, "#666")
    axis_id += 1

# ---------- F: bars ----------
def bars(cats, down, up, w, shift, xa, ya):
    for vals, fill, line, off in ((down, "#000000", "#000000", shift - w), (up, "#D9D9D9", "#9a9a9a", shift)):
        fig.add_trace(go.Bar(x=cats, y=vals, width=w, offset=off, marker=dict(color=fill, line=dict(color=line, width=1)),
                             text=vals, textposition="outside", cliponaxis=False, xaxis=xa, yaxis=ya, showlegend=False,
                             textfont=dict(size=28, color="#222", family=FONT), hoverinfo="skip"))

def bar_axes(i, xdom, cats):
    layout_axes[f"xaxis{i}"] = dict(domain=xd(*xdom), type="category", categoryorder="array", categoryarray=cats,
        range=[-.5, len(cats) - .5], tickson="boundaries", ticks="outside", ticklen=16, tickcolor="#ccc", showline=True,
        linecolor="#b5b5b5", linewidth=2, showgrid=False, zeroline=False, anchor=f"y{i}", ticklabelstandoff=8,
        tickfont=dict(size=20, color="#333", family=FONT))
    layout_axes[f"yaxis{i}"] = dict(domain=yd(1554, 2058), range=[0, 40], tickvals=[0, 10, 20, 30, 40], showgrid=False,
        zeroline=False, ticks="", showline=True, linecolor="#d5d5d5", linewidth=1, anchor=f"x{i}", ticklabelstandoff=8,
        tickfont=dict(size=23, color="#333", family=FONT))

bars(f_left_cats, f_left_down, f_left_up, 0.3125, 0.172, "x8", "y8")
bars(f_right_cats, f_right_down, f_right_up, 0.225, 0.112, "x9", "y9")
bar_axes(8, (129.5, 767), f_left_cats)
bar_axes(9, (1087, 1735), f_right_cats)
text(63, 1822, "Number of differential metabolites", 21.6, "#333", False, angle=-90)
text(1020, 1811, "Number of differential metabolites", 22.7, "#333", False, angle=-90)
rect(47, 1534, 987, 2107, line="#777", lw=2)
rect(993, 1534, 1946, 2107, line="#777", lw=2)
rect(798, 1583, 811, 1596, fill="#000")
rect(798, 1622, 811, 1635, fill="#D9D9D9", line="#888")
text(816, 1589, "down regulated", 21.5, "#222", False, "left")
text(816, 1628, "up regulated", 21.5, "#222", False, "left")
rect(1760, 1588, 1773, 1601, fill="#000")
rect(1760, 1632, 1773, 1645, fill="#D9D9D9", line="#888")
text(1777, 1594, "down regulated", 21.5, "#222", False, "left")
text(1777, 1638, "up regulated", 21.5, "#222", False, "left")

# panel letters
for s, x, y in [("A",14,16),("B",1016,16),("C",12,950),("D",681,950),("E",1349,950),("F",9,1550)]:
    text(x, y, s, 29, "#000", True)

fig.update_layout(width=W, height=H, margin=dict(l=0, r=0, t=0, b=0, autoexpand=False), paper_bgcolor="white", plot_bgcolor="white",
                  barmode="overlay", font=dict(family=FONT), shapes=shapes, annotations=annots, **layout_axes)
fig.write_html("out.html", config=dict(displayModeBar=False), post_script="document.body.style.margin='0';")
